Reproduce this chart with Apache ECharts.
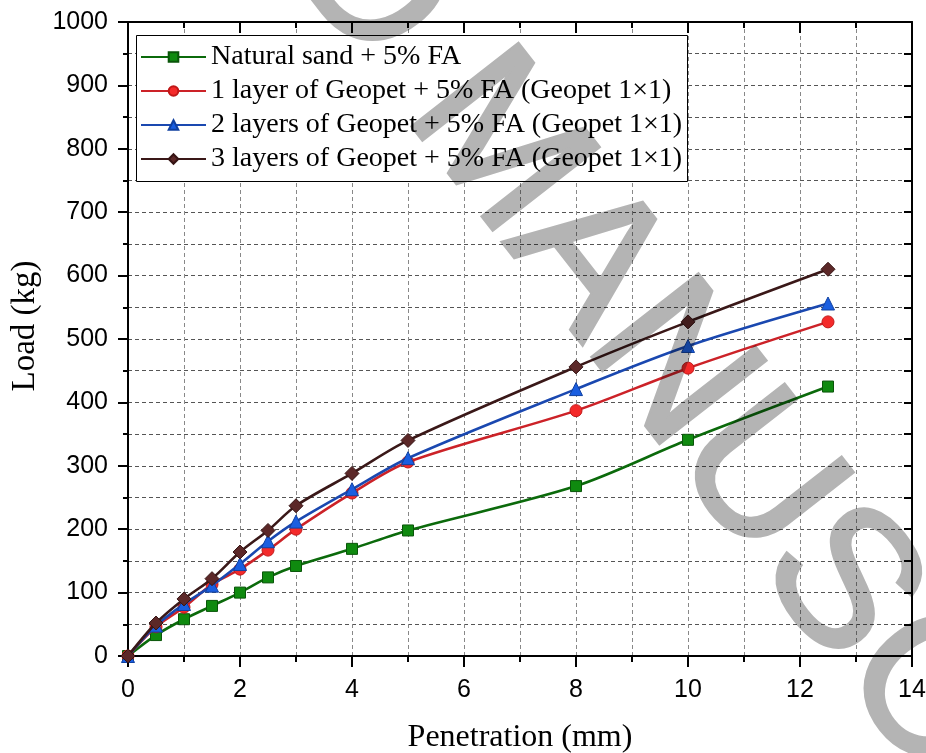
<!DOCTYPE html>
<html>
<head>
<meta charset="utf-8">
<script src="https://cdn.jsdelivr.net/npm/echarts@6/dist/echarts.min.js"></script>
<style>html,body{margin:0;padding:0;background:#fff}#c{width:926px;height:753px;background:#fff}</style>
</head>
<body>
<div id="c"></div>
<script>
const penetration = [0, 0.5, 1, 1.5, 2, 2.5, 3, 4, 5, 8, 10, 12.5];
const naturalSand = [0, 33, 58, 79, 100, 124, 142, 169, 198, 268, 341, 425];
const geopet1 = [0, 46, 77, 113, 137, 167, 200, 257, 306, 387, 454, 527];
const geopet2 = [0, 48, 82, 111, 145, 181, 212, 263, 312, 421, 489, 556];
const geopet3 = [0, 52, 90, 122, 164, 198, 237, 288, 340, 456, 527, 610];
const seriesNames = [
  'Natural sand + 5% FA',
  '1 layer of Geopet + 5% FA (Geopet 1×1)',
  '2 layers of Geopet + 5% FA (Geopet 1×1)',
  '3 layers of Geopet + 5% FA (Geopet 1×1)'
];
const watermarkA = 'ACCEPTED';
const watermarkB = 'MANUSCRIPT';

const pair = arr => penetration.map((x, i) => [x, arr[i]]);
const styles = [
  {line: '#0b6a0b', fill: '#0f8a0f', border: '#095509', symbol: 'rect', size: 11},
  {line: '#cc2228', fill: '#f42a2a', border: '#c01818', symbol: 'circle', size: 12},
  {line: '#1a48b0', fill: '#1a5ee0', border: '#1040a0', symbol: 'triangle', size: 13},
  {line: '#3a1818', fill: '#5c2828', border: '#361414', symbol: 'diamond', size: 14}
];
const datas = [naturalSand, geopet1, geopet2, geopet3];

const chart = echarts.init(document.getElementById('c'));
const serif = '"Liberation Serif", "Times New Roman", serif';
const sans = '"Liberation Sans", Arial, sans-serif';
const dashedV = {show: true, lineStyle: {color: '#888', width: 1, type: [4, 3]}};
const dashedH = {show: true, lineStyle: {color: '#555', width: 1, type: [4, 3]}};

// watermark geometry (rotation about anchor)
const wmAngle = 52 * Math.PI / 180;
const wmFont = 195;
const wmX = 445, wmY = 81;
const wmSpace = 0.278 * wmFont;
const wmStyle = {font: wmFont + 'px "Liberation Sans"', fill: '#b4b4b4', stroke: '#b4b4b4', lineWidth: 4, verticalAlign: 'middle'};

chart.setOption({
  animation: false,
  backgroundColor: 'transparent',
  grid: {left: 128, right: 14, top: 22, bottom: 97, containLabel: false, outerBoundsMode: 'none'},
  legend: {
    orient: 'vertical', left: 136, top: 37, z: 11,
    padding: [6, 4, 6, 4], itemGap: 6, itemWidth: 65, itemHeight: 12,
    borderWidth: 0, backgroundColor: 'transparent',
    textStyle: {fontFamily: serif, fontSize: 28, color: '#000', lineHeight: 28},
    data: seriesNames
  },
  xAxis: [{
    type: 'value', min: 0, max: 14, interval: 2, position: 'bottom',
    name: 'Penetration (mm)', nameLocation: 'middle', nameGap: 66,
    nameTextStyle: {fontFamily: serif, fontSize: 32, color: '#000'},
    axisLine: {show: true, onZero: false, lineStyle: {color: '#000', width: 2}},
    axisTick: {show: true, inside: false, length: 11, lineStyle: {color: '#000', width: 2}},
    minorTick: {show: true, splitNumber: 2, length: 6, lineStyle: {color: '#000', width: 2}},
    axisLabel: {fontFamily: sans, fontSize: 25, color: '#000', margin: 22},
    splitLine: dashedV, minorSplitLine: dashedV
  }, {
    type: 'value', min: 0, max: 14, interval: 2, position: 'top',
    axisLine: {show: true, onZero: false, lineStyle: {color: '#000', width: 2}},
    axisTick: {show: true, inside: true, length: 11, lineStyle: {color: '#000', width: 2}},
    minorTick: {show: true, splitNumber: 2, length: 6, lineStyle: {color: '#000', width: 2}},
    axisLabel: {show: false}, splitLine: {show: false}
  }],
  yAxis: [{
    type: 'value', min: 0, max: 1000, interval: 100, position: 'left',
    name: 'Load (kg)', nameLocation: 'middle', nameGap: 80, nameRotate: 90,
    nameTextStyle: {fontFamily: serif, fontSize: 33, color: '#000', padding: [0, 0, 0, 26]},
    axisLine: {show: true, onZero: false, lineStyle: {color: '#000', width: 2}},
    axisTick: {show: true, inside: false, length: 10, lineStyle: {color: '#000', width: 2}},
    minorTick: {show: true, splitNumber: 2, length: 5, lineStyle: {color: '#000', width: 2}},
    axisLabel: {fontFamily: sans, fontSize: 25, color: '#000', margin: 20, formatter: v => String(v)},
    splitLine: dashedH, minorSplitLine: dashedH
  }, {
    type: 'value', min: 0, max: 1000, interval: 50, position: 'right',
    axisLine: {show: true, onZero: false, lineStyle: {color: '#000', width: 2}},
    axisTick: {show: true, inside: true, length: 8, lineStyle: {color: '#000', width: 2}},
    axisLabel: {show: false}, splitLine: {show: false}
  }],
  series: datas.map((d, i) => ({
    name: seriesNames[i], type: 'line', xAxisIndex: 0, yAxisIndex: 0,
    data: pair(d), smooth: 0.3,
    symbol: styles[i].symbol, symbolSize: styles[i].size, showSymbol: true,
    lineStyle: {color: styles[i].line, width: 2.6},
    itemStyle: {color: styles[i].fill, borderColor: styles[i].border, borderWidth: 1},
    z: 3 + i
  })),
  graphic: [{
    type: 'rect', z: 10, silent: true,
    shape: {x: 136.5, y: 35.5, width: 551, height: 146},
    style: {fill: '#fff', stroke: '#000', lineWidth: 1}
  }, {
    type: 'text', x: wmX - wmSpace * Math.cos(wmAngle), y: wmY - wmSpace * Math.sin(wmAngle),
    rotation: -wmAngle, zlevel: 1, z: 100, silent: true,
    style: Object.assign({text: watermarkA, align: 'right'}, wmStyle)
  }, {
    type: 'text', x: wmX, y: wmY, rotation: -wmAngle, zlevel: 1, z: 100, silent: true,
    style: Object.assign({text: watermarkB, align: 'left'}, wmStyle)
  }]
});
const canvases = document.querySelectorAll('#c canvas');
if (canvases.length > 1) {
  canvases[canvases.length - 1].style.mixBlendMode = 'multiply';
}
</script>
</body>
</html>
